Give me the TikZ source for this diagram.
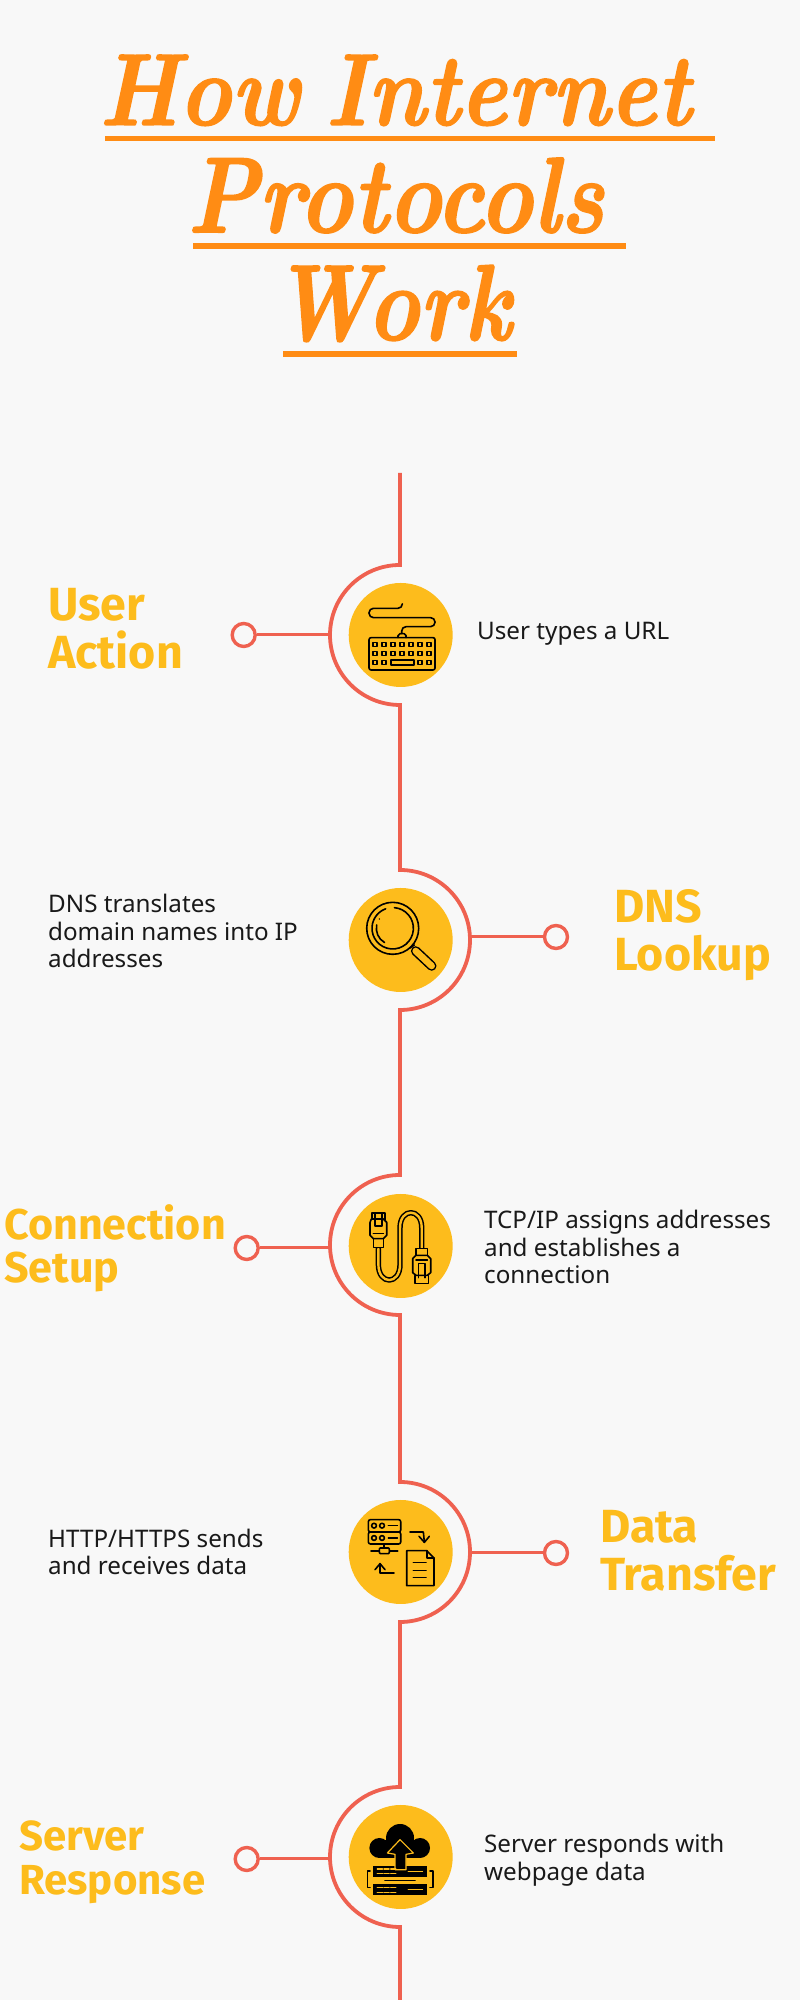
\documentclass[tikz,border=0pt]{standalone}
\usepackage{fontspec}
\usepackage{xcolor}
\newfontfamily\bodyfont{Noto Sans}
\newfontfamily\headfont{Fira Sans}
\newfontfamily\titlefont{Latin Modern Roman}[BoldItalicFeatures={FakeBold=1.5}]
\usetikzlibrary{positioning,calc}
\definecolor{pagegrey}{HTML}{F8F8F8}
\definecolor{titleorange}{HTML}{FF8C14}
\definecolor{lineorange}{HTML}{EF6150}
\definecolor{discyellow}{HTML}{FDBC1C}
\tikzset{
    spine/.style={lineorange,line width=3.8pt},
    link/.style={lineorange,line width=3pt},
    ring/.style={circle,draw=lineorange,line width=3.4pt,fill=pagegrey,minimum size=23pt,inner sep=0pt},
    disc/.style={circle,fill=discyellow,minimum size=104pt,inner sep=0pt},
    heading/.style 2 args={anchor=west,inner sep=0pt,align=left,text=discyellow,font=\headfont\bfseries\fontsize{#1}{#2}\selectfont},
    blurb/.style={anchor=west,inner sep=0pt,align=left,text=black!90,font=\bodyfont\fontsize{24.2}{27.7}\selectfont},
    titleline/.style={anchor=base,inner sep=0pt,text=titleorange},
    titlerule/.style={fill=titleorange},
    icon/.style={shift={(#1)},x=.33333pt,y=-.33333pt,line width=1.6pt,line cap=round,line join=round},
    wire/.style={double=discyellow,double distance=2.4pt,line width=1.5pt},
}
\newcommand{\titletext}[3]{\resizebox{#1pt}{#2pt}{\fontsize{150}{150}\titlefont\bfseries\itshape #3}}
\begin{document}
\begin{tikzpicture}[x=1pt,y=1pt]
    \fill[pagegrey] (0,0) rectangle (800,2000);
    \useasboundingbox (0,0) rectangle (800,2000);

    % title
    \node[titleline] (title1) at (395,1875) {\titletext{592}{70}{How\hspace{-.12em} Internet}};
    \node[titleline] (title2) at (395.5,1767.7) {\titletext{417}{74.7}{Protocols}};
    \node[titleline] (title3) at (391.5,1660) {\titletext{239}{75}{Work}};
    \fill[titlerule] (104.6,1859) rectangle (714.5,1864.3);
    \fill[titlerule] (193,1751.3) rectangle (626,1756.7);
    \fill[titlerule] (283,1643.3) rectangle (517,1649);

    % the line running down the page
    \draw[spine] (400,1527) -- (400,1435) arc[start angle=90,end angle=270,radius=70pt]
        -- (400,1130) arc[start angle=90,end angle=-90,radius=70pt]
        -- (400,825) arc[start angle=90,end angle=270,radius=70pt]
        -- (400,518) arc[start angle=90,end angle=-90,radius=70pt]
        -- (400,213) arc[start angle=90,end angle=270,radius=70pt]
        -- (400,0);

    \node[disc] (hub1) at (400.7,1365) {};
    \node[disc] (hub2) at (400.7,1060) {};
    \node[disc] (hub3) at (400.7,754) {};
    \node[disc] (hub4) at (400.7,448) {};
    \node[disc] (hub5) at (400.7,143) {};

    % rings and their links
    \coordinate (join1) at (330,1365);
    \coordinate (join2) at (470,1063);
    \coordinate (join3) at (330,752);
    \coordinate (join4) at (470,447);
    \coordinate (join5) at (330,141);
    \node[ring] (ring1) at (243.7,1365) {};
    \node[ring] (ring2) at (556,1063) {};
    \node[ring] (ring3) at (246.7,752) {};
    \node[ring] (ring4) at (556,447) {};
    \node[ring] (ring5) at (246.7,141) {};
    \foreach \i in {1,...,5}
        \draw[link] (ring\i) -- (join\i);

    % headings
    \node[heading={46.5}{48}] (head1) at (48,1371) {User\\Action};
    \node[heading={46.5}{48}] (head2) at (614,1065) {DNS\\Lookup};
    \node[heading={43}{43}] (head3) at (4,751.5) {Connection\\Setup};
    \node[heading={46.5}{48}] (head4) at (600,449) {Data\\Transfer};
    \node[heading={42}{44}] (head5) at (19,138) {Server\\Response};

    % text beside each disc
    \node[blurb] (text1) at (477,1366) {User types a URL};
    \node[blurb] (text2) at (48,1069) {DNS translates\\domain names into IP\\addresses};
    \node[blurb] (text3) at (484,753) {TCP/IP assigns addresses\\and establishes a\\connection};
    \node[blurb] (text4) at (48,448) {HTTP/HTTPS sends\\and receives data};
    \node[blurb] (text5) at (484,140) {Server responds with\\webpage data};

    % keyboard
    \begin{scope}[icon=hub1]
        \draw[rounded corners=2pt] (-95,8) rectangle (103,105);
        \foreach \x in {-77,-50,-23,4,31,58,85}
            \foreach \y in {28,55}
                \draw (\x-6,\y-6) rectangle (\x+6,\y+6);
        \foreach \x in {-77,-50,58,85}
            \draw (\x-6,76) rectangle (\x+6,88);
        \draw (-30,75) rectangle (40,90);
        \draw (-8,8) -- (-8,2) -- (-2,-4) -- (10,-4) -- (16,2) -- (16,8);
        \draw[rounded corners=4.4pt] (3,-4) -- (3,-25) -- (103,-25) -- (103,-52) -- (-95,-52) -- (-95,-80) -- (5,-80) -- (5,-92);
    \end{scope}

    % magnifier
    \begin{scope}[icon=hub2]
        \draw (-24,-35) circle[radius=26pt];
        \draw (-18.6,-97) arc[start angle=85,end angle=-250,radius=20.7pt];
        \draw (-72,-45) arc[start angle=168,end angle=240,radius=16.3pt];
        \fill (-64,-63) circle[radius=.8pt];
        \draw (26,25) -- (41,15);
        \draw[wire,double distance=6.6pt] (45,33) -- (93,78);
    \end{scope}

    % cable with two plugs
    \begin{scope}[icon=hub3]
        \draw[wire] (-67,8) -- (-67,55) .. controls (-67,118) and (-2,118) .. (-2,55)
            -- (-2,-55) .. controls (-2,-115) and (63,-115) .. (63,-55) -- (63,8);
        \draw[fill=discyellow] (-87,-99) rectangle (-47,-75);
        \draw[fill=discyellow] (-82,-22) rectangle (-52,4);
        \draw[fill=discyellow] (-88,-81) -- (-52,-81) -- (-42,-71) -- (-42,-32) -- (-52,-22) -- (-82,-22) -- (-92,-32) -- (-92,-71) -- cycle;
        \draw (-77,-99) -- (-77,-60) -- (-57,-60) -- (-57,-99);
        \draw (-82,-38) -- (-52,-38);
        \draw[fill=discyellow] (46,8) rectangle (80,28);
        \draw[fill=discyellow] (43,88) rectangle (83,112);
        \draw[fill=discyellow] (46,28) -- (80,28) -- (90,38) -- (90,80) -- (80,88) -- (46,88) -- (36,80) -- (36,38) -- cycle;
        \draw (53,95) -- (53,53) -- (73,53) -- (73,95);
        \draw (46,42) -- (80,42);
    \end{scope}

    % server, arrows and a document
    \begin{scope}[icon=hub4]
        \draw[rounded corners=2pt] (-97,-97) rectangle (0,-60);
        \draw[rounded corners=2pt] (-97,-60) rectangle (0,-24);
        \foreach \y in {-79,-42} {
            \draw (-80,\y) circle[radius=2.4pt];
            \draw (-56,\y) circle[radius=2.4pt];
            \draw (-37,\y) -- (-10,\y);
        }
        \draw (-50,-24) -- (-50,-12);
        \draw[rounded corners=1pt] (-64,-12) rectangle (-34,5);
        \draw (-89,-3) -- (-64,-3) (-34,-3) -- (-9,-3);
        \draw (28,-60) -- (68,-60) -- (71,-29);
        \draw (55,-47) -- (71,-29) -- (86,-47);
        \draw (-20,63) -- (-62,63) -- (-62,35);
        \draw (-77,53) -- (-62,35) -- (-47,53);
        \draw (18,-4) -- (78,-4) -- (100,18) -- (100,101) -- (18,101) -- cycle;
        \draw (78,-4) -- (78,18) -- (100,18);
        \foreach \y in {31,55,77}
            \draw (38,\y) -- (76,\y);
    \end{scope}

    % cloud over two servers
    \begin{scope}[icon=hub5]
        \fill (-2,-57) circle[radius=14pt];
        \fill (-64,-27) circle[radius=10pt];
        \fill (58,-27) circle[radius=10pt];
        \fill (-64,-52) rectangle (58,3);
        \fill (-82,26) rectangle (78,60);
        \fill (-82,81) rectangle (78,115);
        \draw[discyellow,fill=black,line width=1.2pt] (-2,-52) -- (38,-12) -- (16,-8) -- (16,38) -- (-17,38) -- (-17,-8) -- (-40,-12) -- cycle;
        \draw (-47,70) -- (43,70);
        \draw (-92,42) -- (-100,42) -- (-100,92) -- (-92,92);
        \draw (88,42) -- (96,42) -- (96,92) -- (88,92);
        \foreach \y in {36,50,92,106}
            \draw[discyellow] (-70,\y) -- (-55,\y) (-50,\y) -- (-35,\y) (-30,\y) -- (-15,\y);
        \foreach \y in {43,98}
            \draw[discyellow] (23,\y) -- (65,\y);
    \end{scope}
\end{tikzpicture}
\end{document}
